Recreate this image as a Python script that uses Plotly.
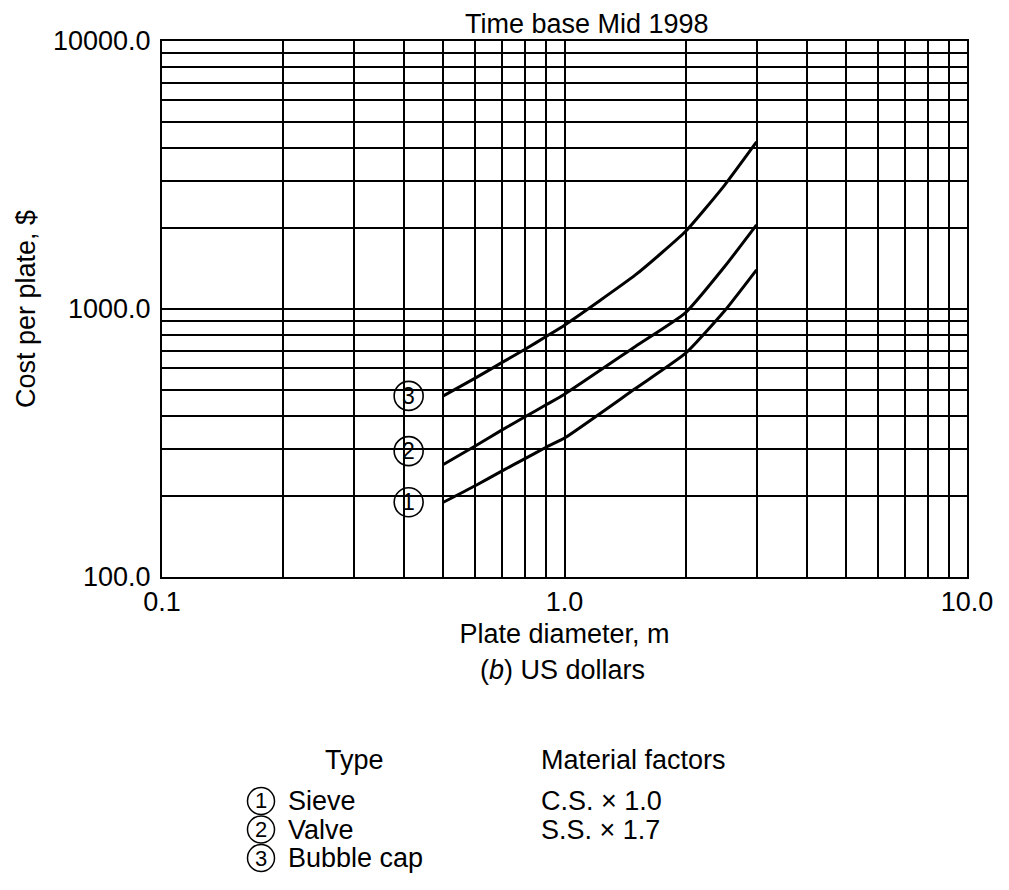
import math
import plotly.graph_objects as go

# ---- data ----
diameter_m = [0.5, 0.6, 0.7, 0.8, 0.9, 1.0, 1.5, 2.0, 2.5, 3.0]
cost_sieve = [190, 219, 249, 277, 305, 330, 505, 684, 985, 1400]
cost_valve = [263, 308, 354, 397, 439, 481, 725, 970, 1440, 2060]
cost_bubble = [474, 552, 632, 709, 789, 870, 1340, 1950, 2900, 4200]

series_names = ["Sieve", "Valve", "Bubble cap"]
series_nums = ["1", "2", "3"]
label_x = [0.41, 0.41, 0.41]
label_y = [190, 295, 474]

x_grid = [0.1, 0.2, 0.3, 0.4, 0.5, 0.6, 0.7, 0.8, 0.9,
          1, 2, 3, 4, 5, 6, 7, 8, 9, 10]
x_tick_text = ["0.1"] + [""] * 8 + ["1.0"] + [""] * 8 + ["10.0"]
y_grid = [100, 200, 300, 400, 500, 600, 700, 800, 900,
          1000, 2000, 3000, 4000, 5000, 6000, 7000, 8000, 9000, 10000]
y_tick_text = ["100.0"] + [""] * 8 + ["1000.0"] + [""] * 8 + ["10000.0"]

material_factors = ["C.S. \u00d7 1.0", "S.S. \u00d7 1.7"]

FONT = "Liberation Sans, Arial, sans-serif"
FS = 27

fig = go.Figure()
for ys, nm in zip([cost_sieve, cost_valve, cost_bubble], series_names):
    fig.add_trace(go.Scatter(x=diameter_m, y=ys, mode="lines", name=nm,
                             line=dict(color="black", width=3, shape="spline", smoothing=0.5),
                             showlegend=False, hoverinfo="x+y+name"))

# circled labels on the chart: open circle markers + centred digits
fig.add_trace(go.Scatter(x=label_x, y=label_y, mode="markers",
                         marker=dict(symbol="circle-open", size=29, color="black",
                                     line=dict(width=1.6)),
                         cliponaxis=False, showlegend=False, hoverinfo="skip"))
for xv, yv, num in zip(label_x, label_y, series_nums):
    fig.add_annotation(x=math.log10(xv), y=math.log10(yv), xref="x", yref="y",
                       text=num, showarrow=False, xanchor="center", yanchor="middle",
                       borderpad=0, font=dict(family=FONT, size=23, color="black"))

# page body has an 8px margin; shrink the figure so the plot area lands where the reference has it
OFF = 8
W, H = 1009 - OFF, 890 - OFF
PL, PR, PT, PB = 162, 967, 41, 577          # plot area in reference pixels
L, T = PL - OFF, PT - OFF
R = W - L - (PR - PL)
B = H - T - (PB - PT)
pw, ph = PR - PL, PB - PT

def px(xp):
    return (xp - PL) / pw

def py(yp):
    return (PB - yp) / ph

def note(text, xp, yp, xanchor="left", size=FS, yanchor="middle"):
    fig.add_annotation(x=px(xp), y=py(yp), xref="paper", yref="paper", text=text,
                       showarrow=False, xanchor=xanchor, yanchor=yanchor, borderpad=0,
                       font=dict(family=FONT, size=size, color="black"))

note("Time base Mid 1998", 587, OFF, xanchor="center", yanchor="top")
note("(<i>b</i>) US dollars", 562, 670, xanchor="center")

# legend block
note("Type", 354, 760, xanchor="center")
note("Material factors", 540, 760)
for i, (num, nm) in enumerate(zip(series_nums, series_names)):
    yy = 801 + i * 28.5
    fig.add_shape(type="circle", xref="paper", yref="paper",
                  xsizemode="pixel", ysizemode="pixel",
                  xanchor=px(261), yanchor=py(yy),
                  x0=-13.5, x1=13.5, y0=-13.5, y1=13.5,
                  line=dict(color="black", width=1.5))
    note(num, 261, yy, xanchor="center", size=22)
    note(nm, 287, yy)
for i, mf in enumerate(material_factors):
    note(mf, 540, 801 + i * 28.5)

axis_common = dict(type="log", showgrid=True, gridcolor="black", gridwidth=1.8,
                   showline=True, linecolor="black", linewidth=2, mirror=True,
                   ticks="outside", ticklen=0, zeroline=False,
                   tickfont=dict(family=FONT, size=FS, color="black"),
                   tickmode="array")

fig.update_xaxes(range=[-1, 1], tickvals=x_grid, ticktext=x_tick_text,
                 title=dict(text="Plate diameter, m", standoff=8,
                            font=dict(family=FONT, size=FS, color="black")),
                 **axis_common)
fig.update_yaxes(range=[2, 4], tickvals=y_grid, ticktext=y_tick_text,
                 ticklabelstandoff=4,
                 title=dict(text="Cost per plate, $", standoff=10,
                            font=dict(family=FONT, size=FS, color="black")),
                 **axis_common)

fig.update_layout(width=W, height=H, margin=dict(l=L, r=R, t=T, b=B, autoexpand=False),
                  paper_bgcolor="white", plot_bgcolor="white",
                  font=dict(family=FONT, size=FS, color="black"))

fig.write_html("out.html")
